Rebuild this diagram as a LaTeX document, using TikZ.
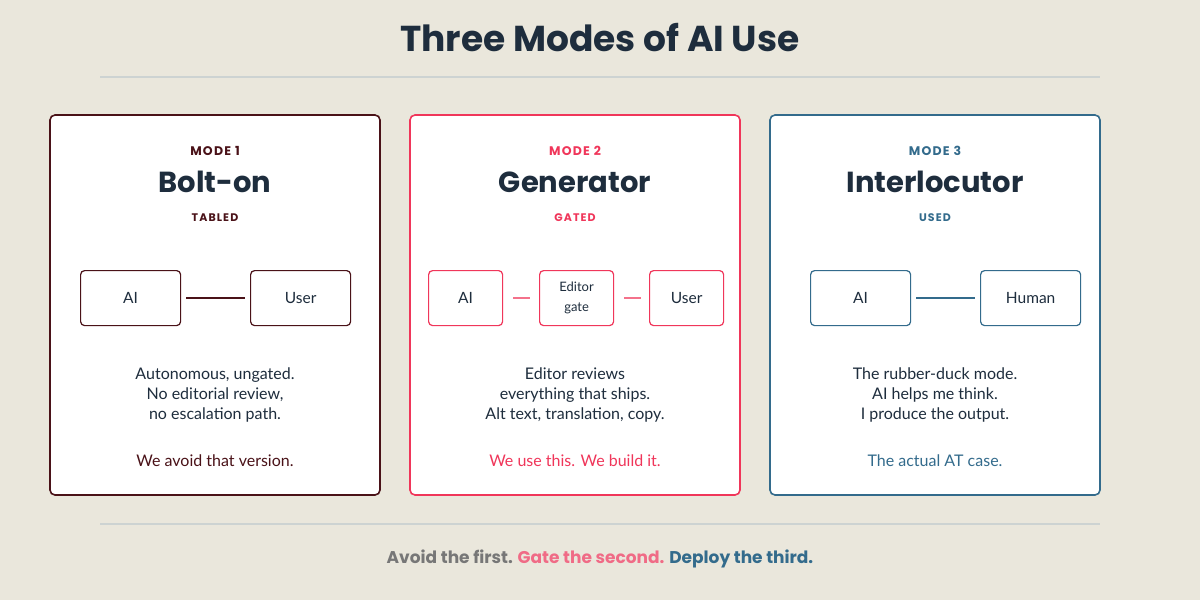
\documentclass[tikz,border=0pt]{standalone}
\usepackage{fontspec}
\setmainfont{Poppins}
\newfontfamily\bodyf{Lato}
\newfontfamily\spaced[LetterSpace=10]{Poppins}
\definecolor{bg}{HTML}{EAE7DC}
\definecolor{ink}{HTML}{1E2D3D}
\definecolor{mar}{HTML}{4A1218}
\definecolor{pnk}{HTML}{F0365A}
\definecolor{blu}{HTML}{336B8C}
\definecolor{rule}{HTML}{CDD3D2}
\definecolor{gry}{HTML}{777777}
\definecolor{lpnk}{HTML}{F06B86}
\begin{document}
\begin{tikzpicture}[x=1pt,y=-1pt,
  card/.style={draw=#1,line width=1.6pt,fill=white,rounded corners=5pt},
  box/.style={draw=#1,line width=1.2pt,fill=white,rounded corners=4pt,inner sep=0pt,anchor=north west},
  lbl/.style={font=\bodyf\fontsize{15.5}{17}\selectfont,text=ink},
  body/.style={font=\bodyf\fontsize{16}{20}\selectfont,text=ink,align=center},
  mode/.style={font=\spaced\bfseries\fontsize{12.5}{14}\selectfont,text=#1},
  big/.style={font=\fontsize{29}{34}\selectfont\bfseries,text=ink},
  tag/.style={font=\spaced\bfseries\fontsize{11}{13}\selectfont,text=#1},
  conn/.style={draw=#1,line width=1.6pt}]
\fill[bg] (0,0) rectangle (1200,600);
\useasboundingbox (0,0) rectangle (1200,600);
\node[font=\bfseries\fontsize{36}{40}\selectfont,text=ink] (title) at (600,38) {Three Modes of AI Use};
\draw[rule,line width=2pt] (100,77) coordinate (r1a) -- (1100,77) coordinate (r1b);
\draw[rule,line width=2pt] (100,524) coordinate (r2a) -- (1100,524) coordinate (r2b);
% cards
\draw[card=mar] (50,115) rectangle (380,495);
\draw[card=pnk] (410,115) rectangle (740,495);
\draw[card=blu] (770,115) rectangle (1100,495);
% card 1
\node[mode=mar] (m1) at (215,151) {MODE 1};
\node[big] (t1) at (215,182) {Bolt-on};
\node[tag=mar] (g1) at (215,218) {TABLED};
\node[box=mar,minimum width=100pt,minimum height=55pt] (a1) at (80,270) {};
\node[lbl] at (a1) {AI};
\node[box=mar,minimum width=100pt,minimum height=55pt] (u1) at (250,270) {};
\node[lbl] at (u1) {User};
\draw[conn=mar] ([xshift=5pt]a1.east) -- ([xshift=-5pt]u1.west);
\node[body] (d1) at (215,395) {Autonomous, ungated.\\No editorial review,\\no escalation path.};
\node[body,text=mar] (e1) at (215,461) {We avoid that version.};
% card 2
\node[mode=pnk] (m2) at (575,151) {MODE 2};
\node[big] (t2) at (575,182) {Generator};
\node[tag=pnk] (g2) at (575,218) {GATED};
\node[box=pnk,minimum width=74pt,minimum height=55pt] (a2) at (428,270) {};
\node[lbl] at (a2) {AI};
\node[box=pnk,minimum width=74pt,minimum height=55pt] (e2b) at (539,270) {};
\node[font=\bodyf\fontsize{13}{20}\selectfont,text=ink,align=center] at (e2b) {Editor\\gate};
\node[box=pnk,minimum width=74pt,minimum height=55pt] (u2) at (649,270) {};
\node[lbl] at (u2) {User};
\draw[conn=pnk!70] ([xshift=10pt]a2.east) -- ([xshift=-9pt]e2b.west);
\draw[conn=pnk!70] ([xshift=10pt]e2b.east) -- ([xshift=-8pt]u2.west);
\node[body] (d2) at (575,395) {Editor reviews\\everything that ships.\\Alt text, translation, copy.};
\node[body,text=pnk] (e2) at (575,461) {We use this. We build it.};
% card 3
\node[mode=blu] (m3) at (935,151) {MODE 3};
\node[big] (t3) at (935,182) {Interlocutor};
\node[tag=blu] (g3) at (935,218) {USED};
\node[box=blu,minimum width=100pt,minimum height=55pt] (a3) at (810,270) {};
\node[lbl] at (a3) {AI};
\node[box=blu,minimum width=100pt,minimum height=55pt] (h3) at (980,270) {};
\node[lbl] at (h3) {Human};
\draw[conn=blu] ([xshift=5pt]a3.east) -- ([xshift=-5pt]h3.west);
\node[body] (d3) at (935,395) {The rubber-duck mode.\\AI helps me think.\\I produce the output.};
\node[body,text=blu] (e3) at (935,461) {The actual AT case.};
% footer
\node[font=\bfseries\fontsize{17}{20}\selectfont] (foot) at (600,559) {\textcolor{gry}{Avoid the first.} \textcolor{lpnk}{Gate the second.} \textcolor{blu}{Deploy the third.}};
\end{tikzpicture}
\end{document}
